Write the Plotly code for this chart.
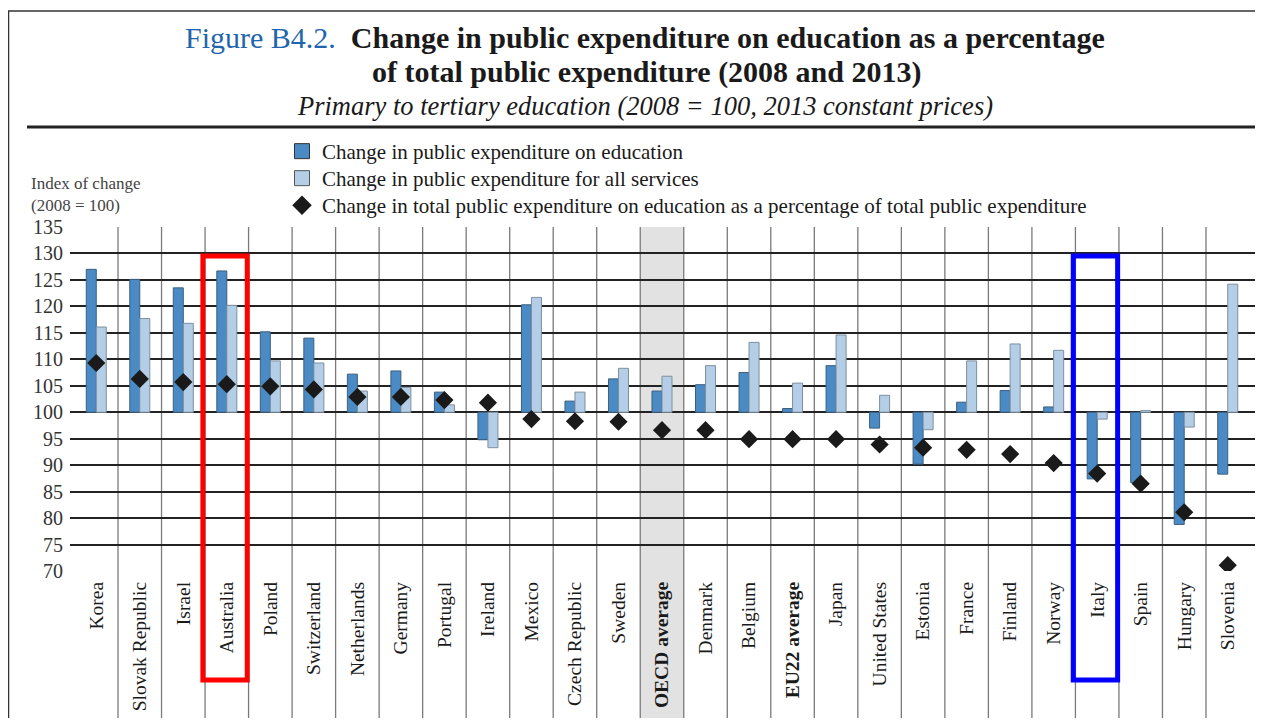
import plotly.graph_objects as go

countries = ["Korea", "Slovak Republic", "Israel", "Australia", "Poland", "Switzerland",
             "Netherlands", "Germany", "Portugal", "Ireland", "Mexico", "Czech Republic",
             "Sweden", "OECD average", "Denmark", "Belgium", "EU22 average", "Japan",
             "United States", "Estonia", "France", "Finland", "Norway", "Italy", "Spain",
             "Hungary", "Slovenia"]

edu_exp = [127.0, 125.1, 123.5, 126.7, 115.2, 114.0, 107.2, 107.8, 103.8, 94.8, 120.3, 102.1,
           106.3, 104.0, 105.2, 107.5, 100.7, 108.8, 97.0, 90.2, 101.9, 104.1, 101.0, 87.4,
           86.7, 78.8, 88.3]

all_services = [116.1, 117.7, 116.8, 120.2, 109.7, 109.3, 104.0, 104.7, 101.4, 93.3, 121.7, 103.8,
                108.3, 106.8, 108.8, 113.2, 105.5, 114.6, 103.2, 96.7, 109.7, 112.9, 111.7, 98.7,
                100.3, 97.2, 124.2]

share_edu = [109.3, 106.3, 105.7, 105.3, 104.9, 104.3, 102.9, 102.9, 102.3, 101.8, 98.7, 98.3,
             98.2, 96.6, 96.6, 94.9, 94.9, 94.9, 93.9, 93.3, 92.9, 92.1, 90.4, 88.4,
             86.5, 81.1, 71.1]

y_ticks = list(range(70, 136, 5))
bold_labels = {"OECD average", "EU22 average"}
highlight_red = "Australia"
highlight_blue = "Italy"
shaded = "OECD average"

FONT = "Liberation Serif"
DARK = "#4a8bc5"
LIGHT = "#b3cee6"
OFF = 8  # page body margin
PAGE_W, PAGE_H = 1263, 726
W, H = PAGE_W - 2 * OFF, PAGE_H - 2 * OFF
# plot area in page pixels
PL, PR, PT, PB = 70, OFF + W, 227, 571
L, R, T, B = PL - OFF, W - (PR - OFF), PT - OFF, H - (PB - OFF)
PW = W - L - R
PH = H - T - B


def px_x(p):
    """page pixel x -> paper x"""
    return (p - OFF - L) / PW


def px_y(p):
    """page pixel y -> paper y"""
    return (H - B - (p - OFF)) / PH


n = len(countries)
idx = list(range(n))
base = 100
col_w = (1249.5 - 74.5) / n

names = ["Change in public expenditure on education",
         "Change in public expenditure for all services",
         "Change in total public expenditure on education as a percentage of total public expenditure"]

fig = go.Figure()
fig.add_trace(go.Bar(
    x=idx, y=[v - base for v in edu_exp], base=base, name=names[0], showlegend=False,
    marker=dict(color=DARK, line=dict(color="#3d5f7e", width=1)),
))
fig.add_trace(go.Bar(
    x=idx, y=[v - base for v in all_services], base=base, name=names[1], showlegend=False,
    marker=dict(color=LIGHT, line=dict(color="#7e8f9e", width=1)),
))
fig.add_trace(go.Scatter(
    x=idx, y=share_edu, mode="markers", name=names[2], showlegend=False,
    marker=dict(symbol="diamond", size=14, color="#1a1a1a"),
))
legend_styles = [
    dict(symbol="square", size=15, color=DARK, line=dict(color="#333", width=1)),
    dict(symbol="square", size=15, color=LIGHT, line=dict(color="#555", width=1)),
    dict(symbol="diamond", size=15, color="#1a1a1a"),
]
legend_ids = ["legend", "legend2", "legend3"]
for nm, st, lg in zip(names, legend_styles, legend_ids):
    fig.add_trace(go.Scatter(x=[None], y=[None], mode="markers", name=nm, marker=st,
                             legend=lg, showlegend=True))

shapes = []
si = countries.index(shaded)
shapes.append(dict(type="rect", xref="x", yref="paper", x0=si - 0.5, x1=si + 0.5,
                   y0=px_y(PAGE_H + 5), y1=1, fillcolor="#e2e2e2", line=dict(width=0), layer="below"))
for i in range(n - 1):
    shapes.append(dict(type="line", xref="x", yref="paper", x0=i + 0.5, x1=i + 0.5,
                       y0=px_y(PAGE_H + 5), y1=1, line=dict(color="#7a7a7a", width=1.3), layer="below"))
for name, col in [(highlight_red, "#ff0000"), (highlight_blue, "#0000ff")]:
    k = countries.index(name)
    shapes.append(dict(type="rect", xref="x", yref="paper", x0=k - 0.55, x1=k + 0.47,
                       y0=px_y(680), y1=px_y(256), line=dict(color=col, width=5),
                       fillcolor="rgba(0,0,0,0)", layer="above"))
shapes.append(dict(type="line", xref="paper", yref="paper", x0=px_x(8.5), x1=px_x(8.5),
                   y0=px_y(11), y1=px_y(PAGE_H + 5), line=dict(color="#333", width=1.5)))
shapes.append(dict(type="line", xref="paper", yref="paper", x0=px_x(8), x1=px_x(PAGE_W + 5),
                   y0=px_y(11), y1=px_y(11), line=dict(color="#333", width=1.5)))
shapes.append(dict(type="line", xref="paper", yref="paper", x0=px_x(27), x1=px_x(PAGE_W + 5),
                   y0=px_y(127), y1=px_y(127), line=dict(color="#222", width=3)))

annotations = [
    dict(xref="paper", yref="paper", x=px_x(645), y=px_y(38), xanchor="center", yanchor="middle",
         showarrow=False, font=dict(family=FONT, size=30, color="#1a1a1a"),
         text="<span style='color:#1f65ad'>Figure B4.2.</span>  <b>Change in public expenditure on education as a percentage</b>"),
    dict(xref="paper", yref="paper", x=px_x(646), y=px_y(72), xanchor="center", yanchor="middle",
         showarrow=False, font=dict(family=FONT, size=30, color="#1a1a1a"),
         text="<b>of total public expenditure (2008 and 2013)</b>"),
    dict(xref="paper", yref="paper", x=px_x(645), y=px_y(106), xanchor="center", yanchor="middle",
         showarrow=False, font=dict(family=FONT, size=26.5, color="#1a1a1a"),
         text="<i>Primary to tertiary education (2008 = 100, 2013 constant prices)</i>"),
    dict(xref="paper", yref="paper", x=px_x(29), y=px_y(172), xanchor="left", yanchor="top",
         showarrow=False, align="left", font=dict(family=FONT, size=17, color="#444"),
         text="Index of change<br>(2008 = 100)"),
]

ticktext = [f"<b>{c}</b>" if c in bold_labels else c for c in countries]

x_left = -0.5 - (74.5 - PL) / col_w
x_right = n - 0.5 + (PR - 1249.5) / col_w


def legend_box(top_px):
    return dict(x=px_x(282), y=px_y(top_px), xanchor="left", yanchor="top",
                font=dict(family=FONT, size=21, color="#1a1a1a"),
                bgcolor="rgba(0,0,0,0)", itemwidth=30)


fig.update_layout(
    width=W, height=H,
    margin=dict(l=L, r=R, t=T, b=B, pad=0, autoexpand=False),
    paper_bgcolor="white", plot_bgcolor="rgba(0,0,0,0)",
    barmode="group", bargap=0.54, bargroupgap=0,
    font=dict(family=FONT, color="#1a1a1a"),
    showlegend=True,
    legend=legend_box(131), legend2=legend_box(158), legend3=legend_box(185),
    xaxis=dict(range=[x_left, x_right], tickmode="array", automargin=False,
               tickvals=idx, ticktext=ticktext, tickangle=-90, showgrid=False, zeroline=False,
               showline=False, ticks="", ticklabelstandoff=6,
               tickfont=dict(family=FONT, size=19.5, color="#1a1a1a"), fixedrange=True),
    yaxis=dict(range=[70, 135], tickmode="array", tickvals=y_ticks, showgrid=True, automargin=False,
               gridcolor="#222", gridwidth=1.6, zeroline=False, showline=False, ticks="",
               ticklabelstandoff=6,
               tickfont=dict(family=FONT, size=20, color="#333"), fixedrange=True),
    shapes=shapes,
    annotations=annotations,
)

fig.write_html("out.html", config={"displayModeBar": False})
